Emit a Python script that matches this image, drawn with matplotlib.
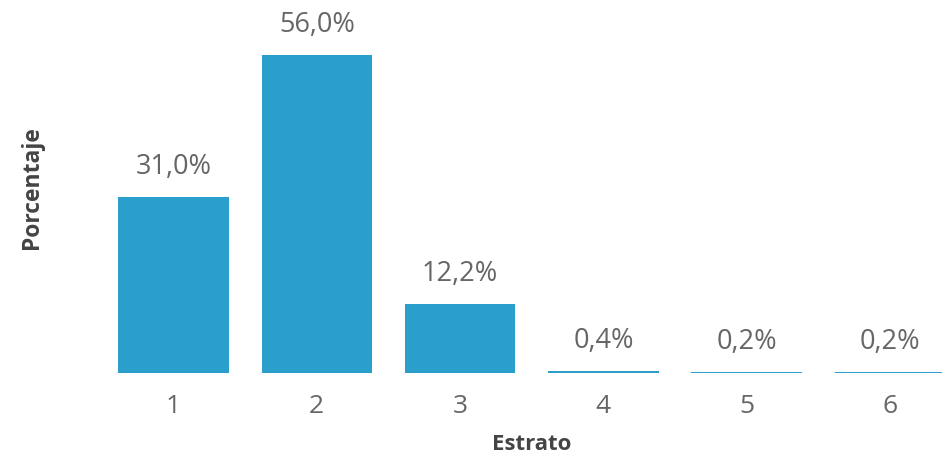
import matplotlib
matplotlib.use("Agg")
import matplotlib.pyplot as plt

categories = ["1", "2", "3", "4", "5", "6"]
values = [31.0, 56.0, 12.2, 0.4, 0.2, 0.2]
value_labels = ["31,0%", "56,0%", "12,2%", "0,4%", "0,2%", "0,2%"]

plt.rcParams['font.family'] = ['Open Sans', 'DejaVu Sans']

W, H = 942, 459
fig = plt.figure(figsize=(W / 100, H / 100), dpi=100)
base_px = 373
ax = fig.add_axes([0, (H - base_px) / H, 1, base_px / H])

pitch = 143.3
x0 = 173.5
xs = list(range(1, len(categories) + 1))
ax.bar(xs, values, width=110.5 / pitch, color="#2A9FCC")
ax.set_xlim(1 - x0 / pitch, 1 + (W - x0) / pitch)
ax.set_ylim(0, base_px / 5.68)

for x, v, lab in zip(xs, values, value_labels):
    ax.annotate(lab, (x, v), xytext=(0, 16.5), textcoords="offset points",
                ha="center", va="baseline", fontsize=19.5, color="#666666")

ax.set_xticks(xs)
ax.set_xticklabels(categories, fontsize=19, color="#666666")
ax.tick_params(axis="x", length=0, pad=15)
ax.set_yticks([])
for s in ax.spines.values():
    s.set_visible(False)

fig.text(532 / W, 1 - 445 / H, "Estrato", ha="center", va="center",
         fontsize=16, fontweight="bold", color="#444444")
fig.text(32 / W, 1 - 188 / H, "Porcentaje", ha="center", va="center",
         rotation=90, fontsize=16.5, fontweight="bold", color="#444444")

fig.savefig("out.png", dpi=100)
